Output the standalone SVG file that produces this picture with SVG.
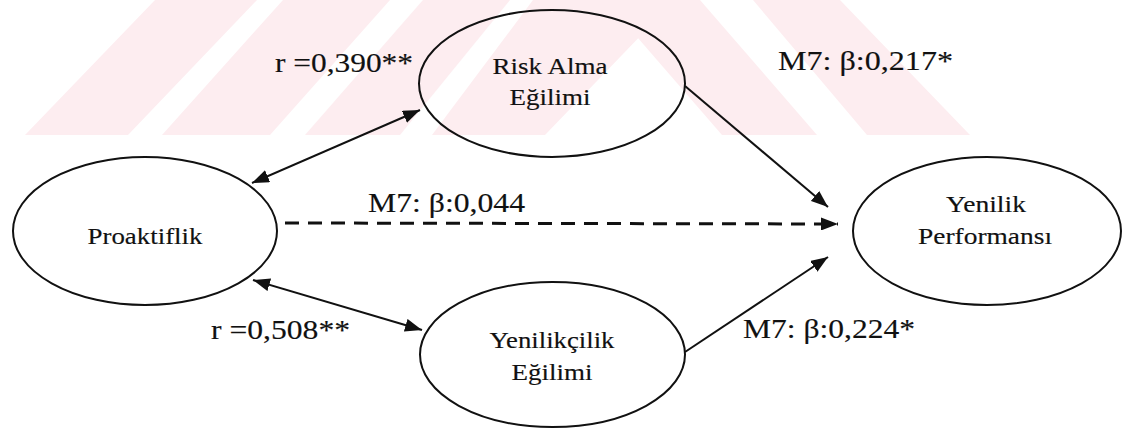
<svg xmlns="http://www.w3.org/2000/svg" width="1124" height="428" viewBox="0 0 1124 428">
  <style>
    .node ellipse { fill: none; stroke: #111; stroke-width: 2; }
    .node text { font-family: "Liberation Serif", "Times New Roman", serif; font-size: 23px; fill: #111; stroke: #111; stroke-width: 0.15; text-anchor: middle; }
    .lbl { font-family: "Liberation Serif", "Times New Roman", serif; font-size: 28px; fill: #111; stroke: #111; stroke-width: 0.15; }
    .edge { fill: none; stroke: #111; stroke-width: 2; }
    .dash { stroke-width: 3; stroke-dasharray: 14 9; }
    .wm { fill: #fdedf0; }
  </style>
  <defs>
    <marker id="head" viewBox="0 0 17 13" refX="17" refY="6.5" markerWidth="17" markerHeight="13" markerUnits="userSpaceOnUse" orient="auto-start-reverse">
      <path d="M0,0 L17,6.5 L0,13 z" fill="#111"/>
    </marker>
  </defs>

  <rect width="1124" height="428" fill="#fff"/>

  <!-- background watermark stripes -->
  <g id="watermark">
    <polygon class="wm" points="155,0 257,0 128,135 25,135"/>
    <polygon class="wm" points="283,0 390,0 270,135 162,135"/>
    <polygon class="wm" points="423,0 510,0 400,135 305,135"/>
    <polygon class="wm" points="533,0 675,0 545,135 432,135"/>
    <polygon class="wm" points="605,0 700,0 817,135 722,135"/>
    <polygon class="wm" points="753,0 840,0 970,135 867,135"/>
  </g>

  <!-- connectors -->
  <g id="connectors">
    <line class="edge" x1="252" y1="183" x2="420" y2="110" marker-start="url(#head)" marker-end="url(#head)"/>
    <line class="edge" x1="253" y1="280" x2="422" y2="330" marker-start="url(#head)" marker-end="url(#head)"/>
    <line class="edge" x1="685" y1="86" x2="828" y2="207" marker-end="url(#head)"/>
    <line class="edge dash" x1="285" y1="223" x2="838" y2="224" marker-end="url(#head)"/>
    <line class="edge" x1="685" y1="352" x2="828" y2="257" marker-end="url(#head)"/>
  </g>

  <!-- connector labels -->
  <g id="labels">
    <text class="lbl" x="275" y="72" textLength="138" lengthAdjust="spacingAndGlyphs">r =0,390**</text>
    <text class="lbl" x="778" y="70" textLength="175" lengthAdjust="spacingAndGlyphs">M7: β:0,217*</text>
    <text class="lbl" x="368" y="212" textLength="157" lengthAdjust="spacingAndGlyphs">M7: β:0,044</text>
    <text class="lbl" x="211" y="339" textLength="139" lengthAdjust="spacingAndGlyphs">r =0,508**</text>
    <text class="lbl" x="743" y="338" textLength="172" lengthAdjust="spacingAndGlyphs">M7: β:0,224*</text>
  </g>

  <g id="node-proaktiflik" class="node">
    <ellipse cx="145" cy="231" rx="132" ry="74"/>
    <text x="145" y="244" textLength="115" lengthAdjust="spacingAndGlyphs">Proaktiflik</text>
  </g>

  <g id="node-risk-alma" class="node">
    <ellipse cx="552" cy="83.5" rx="133" ry="73.5"/>
    <text x="550" y="74" textLength="115" lengthAdjust="spacingAndGlyphs">Risk Alma</text>
    <text x="550" y="105" textLength="81" lengthAdjust="spacingAndGlyphs">Eğilimi</text>
  </g>

  <g id="node-yenilikcilik" class="node">
    <ellipse cx="552.5" cy="354.5" rx="132.5" ry="72.5"/>
    <text x="552" y="348" textLength="125" lengthAdjust="spacingAndGlyphs">Yenilikçilik</text>
    <text x="552" y="380" textLength="81" lengthAdjust="spacingAndGlyphs">Eğilimi</text>
  </g>

  <g id="node-yenilik-performansi" class="node">
    <ellipse cx="987" cy="231" rx="134" ry="74"/>
    <text x="986" y="212" textLength="80" lengthAdjust="spacingAndGlyphs">Yenilik</text>
    <text x="985" y="244" textLength="134" lengthAdjust="spacingAndGlyphs">Performansı</text>
  </g>
</svg>
